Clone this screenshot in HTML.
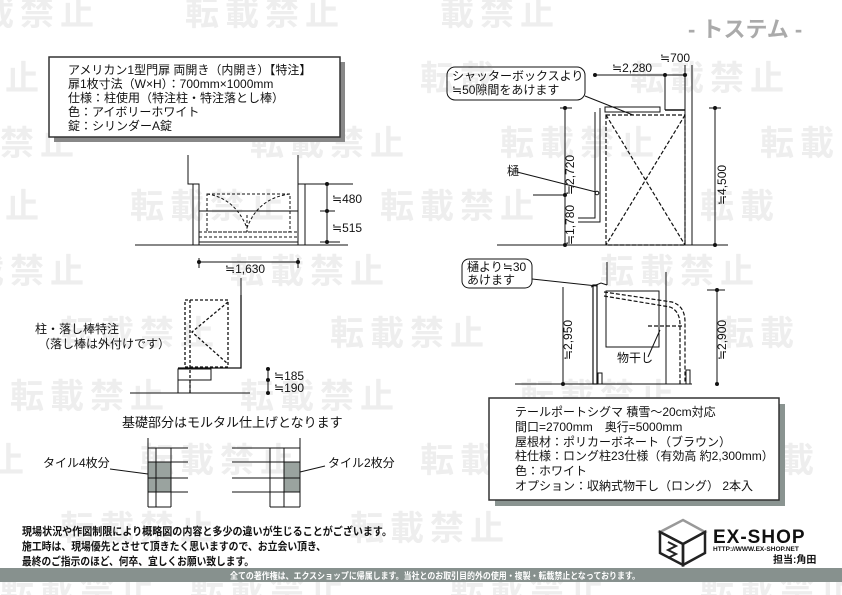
<!DOCTYPE html>
<html><head><meta charset="utf-8"><style>
html,body{margin:0;padding:0;background:#fff;}
svg{display:block;font-family:"Liberation Sans","Noto Sans CJK JP",sans-serif;}
.wm{fill:#eeeeee;font-size:34px;font-weight:bold;letter-spacing:6px;}
.t{font-size:12px;fill:#111;}
.d{font-size:12px;fill:#111;}
</style></head><body>
<svg width="842" height="595" viewBox="0 0 842 595" xmlns="http://www.w3.org/2000/svg">
<!-- watermark -->
<g class="wm">
<text x="-20" y="25">載禁止</text><text x="185" y="25">転載禁止</text><text x="440" y="25">載禁止</text>
<text x="5" y="90">止</text><text x="160" y="90">転載禁止</text><text x="420" y="90">転載</text><text x="630" y="90">転載禁止</text>
<text x="-40" y="155">載禁止</text><text x="250" y="155">転載禁止</text><text x="500" y="155">転載禁止</text><text x="760" y="155">転載</text>
<text x="5" y="218">止</text><text x="130" y="218">転載禁止</text><text x="380" y="218">転載禁止</text><text x="700" y="218">転載</text>
<text x="-30" y="283">載禁止</text><text x="230" y="283">転載禁止</text><text x="600" y="283">転載禁止</text>
<text x="60" y="345">転載禁止</text><text x="330" y="345">転載禁止</text><text x="720" y="345">転載</text>
<text x="10" y="408">転載禁止</text><text x="240" y="408">転載禁止</text><text x="520" y="408">転載禁止</text>
<text x="-10" y="472">止</text><text x="140" y="472">転載禁止</text><text x="420" y="472">転載禁止</text><text x="740" y="472">転載</text>
<text x="60" y="540">転載禁止</text><text x="350" y="540">転載禁止</text>
<text x="0" y="600">転載禁止</text><text x="190" y="600">転載禁止</text><text x="450" y="600">転載禁止</text><text x="700" y="600">転載禁止</text>
</g>
<!-- TOSTEM -->
<text x="688" y="37" font-size="22" font-weight="bold" fill="#aaa">- トステム -</text>

<!-- top-left box -->
<rect x="54" y="62" width="291" height="80" fill="#888"/>
<rect x="49" y="57" width="291" height="80" fill="#fff" stroke="#333" stroke-width="1.5"/>
<g class="t">
<text x="68" y="74">アメリカン1型門扉 両開き（内開き）【特注】</text>
<text x="68" y="88">扉1枚寸法（W×H）：700mm×1000mm</text>
<text x="68" y="102">仕様：柱使用（特注柱・特注落とし棒）</text>
<text x="68" y="116">色：アイボリーホワイト</text>
<text x="68" y="130">錠：シリンダーA錠</text>
</g>

<g stroke="#111" fill="none" stroke-width="1">
<polyline points="188,155 188,184 193,184"/>
<line x1="298" y1="155" x2="298" y2="245"/>
<rect x="193" y="184" width="6" height="61"/>
<rect x="298" y="184" width="7" height="61"/>
<line x1="305" y1="184" x2="353" y2="184"/>
<line x1="135" y1="245" x2="348" y2="245"/>
<line x1="199" y1="211" x2="298" y2="211"/>
<line x1="199" y1="242" x2="298" y2="242"/>
<g stroke-dasharray="3,2">
<rect x="207" y="194" width="83" height="38"/>
<rect x="199" y="232" width="99" height="5"/>
<path d="M207,194 Q235,198 247,228 Q258,198 290,194"/>
<line x1="247" y1="215" x2="247" y2="232"/>
</g>
<line x1="327" y1="184" x2="327" y2="242"/>
<line x1="320" y1="211" x2="335" y2="211"/><line x1="320" y1="242" x2="340" y2="242"/>
<line x1="199" y1="262" x2="298" y2="262"/>
<line x1="199" y1="258" x2="199" y2="268"/><line x1="298" y1="258" x2="298" y2="268"/>
<line x1="241" y1="278" x2="241" y2="300"/>

<g stroke-dasharray="3,2" stroke-width="1.3">
<rect x="185" y="300" width="43" height="67"/>
<line x1="190" y1="300" x2="190" y2="393"/>
<polyline points="228,302 192,332 228,364"/>
</g>
<polyline points="241,295 241,368 178,368" stroke-width="1.3"/>
<rect x="178" y="369" width="33" height="11"/>
<rect x="178" y="380" width="12" height="13"/>
<line x1="130" y1="393" x2="250" y2="393"/>
<line x1="268" y1="369" x2="268" y2="393"/>

<rect x="148" y="462" width="23" height="30" fill="#9aa39f" stroke="none"/>
<rect x="284" y="462" width="16" height="30" fill="#9aa39f" stroke="none"/>
<line x1="148" y1="438" x2="148" y2="507"/>
<line x1="156" y1="448" x2="156" y2="507"/>
<line x1="171" y1="448" x2="171" y2="507"/>
<line x1="148" y1="448" x2="188" y2="448"/>
<line x1="148" y1="462" x2="188" y2="462"/>
<line x1="148" y1="478" x2="188" y2="478"/>
<line x1="148" y1="492" x2="188" y2="492"/>
<line x1="148" y1="507" x2="171" y2="507"/>
<line x1="300" y1="438" x2="300" y2="507"/>
<line x1="284" y1="448" x2="284" y2="507"/>
<line x1="270" y1="448" x2="270" y2="507"/>
<line x1="232" y1="448" x2="300" y2="448"/>
<line x1="232" y1="462" x2="300" y2="462"/>
<line x1="232" y1="478" x2="300" y2="478"/>
<line x1="232" y1="492" x2="300" y2="492"/>
<line x1="270" y1="507" x2="300" y2="507"/>
<line x1="110" y1="469" x2="148" y2="474"/>
<line x1="300" y1="472" x2="325" y2="466"/>

<line x1="595" y1="75" x2="685" y2="75"/>
<line x1="665" y1="75" x2="665" y2="110"/><line x1="665" y1="110" x2="685" y2="110" stroke-width="1.5"/>
<line x1="685" y1="65" x2="685" y2="245"/><line x1="692" y1="65" x2="692" y2="245"/>
<rect x="605" y="107" width="55" height="5"/>
<polyline points="600,108 600,222 578,222"/>
<polyline points="595,112 595,218 578,218"/>
<g stroke-dasharray="4,2" stroke-width="1.2">
<rect x="606" y="115" width="79" height="130"/>
<line x1="606" y1="115" x2="685" y2="245"/><line x1="685" y1="115" x2="606" y2="245"/>
</g>
<line x1="565" y1="108" x2="565" y2="245"/>
<line x1="560" y1="108" x2="572" y2="108"/>
<line x1="533" y1="195" x2="565" y2="195"/>
<line x1="497" y1="245" x2="728" y2="245"/>
<line x1="715" y1="108" x2="715" y2="245"/>
<line x1="709" y1="108" x2="721" y2="108"/>
<line x1="517" y1="172" x2="596" y2="192"/>
<circle cx="597" cy="193" r="1.8"/>
<rect x="447" y="67" width="138" height="33" rx="8"/>
<line x1="585" y1="96" x2="633" y2="115"/>

<rect x="462" y="259" width="70" height="29" rx="7"/>
<line x1="532" y1="279" x2="597" y2="286"/>
<line x1="607" y1="262" x2="607" y2="285"/>
<polyline points="591,287 601,283 607,285"/>
<rect x="593" y="285" width="4" height="99" stroke-width="1.2"/>
<rect x="606" y="291" width="53" height="56"/>
<line x1="666" y1="272" x2="666" y2="384"/>
<g stroke-dasharray="4,2" stroke-width="1.2">
<path d="M604,292 L672,302 Q685,306 685,322 L685,384"/>
<path d="M604,296 L670,307 Q680,311 680,325 L680,384"/>
<line x1="648" y1="326" x2="682" y2="326"/>
</g>
<rect x="686" y="370" width="4" height="14"/>
<rect x="598" y="373" width="4" height="11"/>
<line x1="660" y1="330" x2="648" y2="357"/>
<line x1="515" y1="384" x2="692" y2="384"/>
<line x1="563" y1="287" x2="563" y2="384"/>
<line x1="717" y1="290" x2="717" y2="384"/>
<line x1="707" y1="290" x2="725" y2="290"/>
</g>
<g fill="#111">
<circle cx="327" cy="184" r="2"/><circle cx="327" cy="211" r="2"/><circle cx="327" cy="242" r="2"/>
<circle cx="199" cy="262" r="2"/><circle cx="298" cy="262" r="2"/>
<circle cx="268" cy="369" r="2"/><circle cx="268" cy="380" r="2"/><circle cx="268" cy="393" r="2"/>
<circle cx="595" cy="75" r="2"/><circle cx="665" cy="75" r="2"/><circle cx="685" cy="75" r="2"/>
<circle cx="565" cy="108" r="2"/><circle cx="565" cy="195" r="2"/><circle cx="565" cy="245" r="2"/>
<circle cx="715" cy="108" r="2"/><circle cx="715" cy="245" r="2"/>
<circle cx="563" cy="384" r="2"/><circle cx="717" cy="290" r="2"/><circle cx="717" cy="384" r="2"/>
</g>
<g class="d">
<text x="332" y="203">≒480</text><text x="332" y="232">≒515</text>
<text x="225" y="273">≒1,630</text>
<text x="274" y="380">≒185</text><text x="274" y="392">≒190</text>
<text x="612" y="72">≒2,280</text><text x="660" y="62">≒700</text>
<text transform="translate(574,175) rotate(-90)" text-anchor="middle">≒2,720</text>
<text transform="translate(574,225) rotate(-90)" text-anchor="middle">≒1,780</text>
<text transform="translate(726,185) rotate(-90)" text-anchor="middle">≒4,500</text>
<text transform="translate(572,340) rotate(-90)" text-anchor="middle">≒2,950</text>
<text transform="translate(726,340) rotate(-90)" text-anchor="middle">≒2,900</text>
</g>
<g class="t">
<text x="507" y="175">樋</text>
<text x="452" y="80">シャッターボックスより</text>
<text x="452" y="94">≒50隙間をあけます</text>
<text x="467" y="271">樋より≒30</text>
<text x="467" y="284">あけます</text>
<text x="617" y="362">物干し</text>
<text x="35" y="333">柱・落し棒特注</text>
<text x="38" y="348">（落し棒は外付けです）</text>
<text x="122" y="427" font-size="13">基礎部分はモルタル仕上げとなります</text>
<text x="43" y="467">タイル4枚分</text>
<text x="328" y="467">タイル2枚分</text>
</g>

<rect x="495" y="404" width="290" height="102" fill="#8a9491"/>
<rect x="489" y="398" width="290" height="102" fill="#fff" stroke="#333" stroke-width="1.5"/>
<g class="t" font-size="11.6">
<text x="515" y="416">テールポートシグマ 積雪～20cm対応</text>
<text x="515" y="431">間口=2700mm　奥行=5000mm</text>
<text x="515" y="446">屋根材：ポリカーボネート（ブラウン）</text>
<text x="515" y="460">柱仕様：ロング柱23仕様（有効高 約2,300mm）</text>
<text x="515" y="475">色：ホワイト</text>
<text x="515" y="490">オプション：収納式物干し（ロング） 2本入</text>
</g>

<g font-size="11" font-weight="bold" fill="#111">
<text x="22" y="535" textLength="370" lengthAdjust="spacingAndGlyphs">現場状況や作図制限により概略図の内容と多少の違いが生じることがございます。</text>
<text x="22" y="550" textLength="304" lengthAdjust="spacingAndGlyphs">施工時は、現場優先とさせて頂きたく思いますので、お立会い頂き、</text>
<text x="22" y="565" textLength="232" lengthAdjust="spacingAndGlyphs">最終のご指示のほど、何卒、宜しくお願い致します。</text>
</g>
<rect x="0" y="568" width="842" height="14" fill="#87918e"/>
<text x="230" y="579" font-size="9" font-weight="bold" fill="#fff" textLength="410" lengthAdjust="spacingAndGlyphs">全ての著作権は、エクスショップに帰属します。当社とのお取引目的外の使用・複製・転載禁止となっております。</text>

<g stroke="#222" stroke-width="2.5" fill="none">
<polygon points="660,532 683,520 705,532 683,544" stroke="#999"/>
<polygon points="660,532 683,544 683,565 660,553"/>
<polygon points="683,544 705,532 705,553 683,565"/>
<path d="M668,542 l8,4 l-8,4 l8,4 l-8,4" stroke-width="2"/>
</g>
<text x="713" y="543" font-size="19" font-weight="bold" fill="#111" letter-spacing="1">EX-SHOP</text>
<text x="713" y="551" font-size="6.5" font-weight="bold" fill="#111">HTTP://WWW.EX-SHOP.NET</text>
<text x="773" y="563" font-size="10" font-weight="bold" fill="#111">担当:角田</text>
</svg>
</body></html>
